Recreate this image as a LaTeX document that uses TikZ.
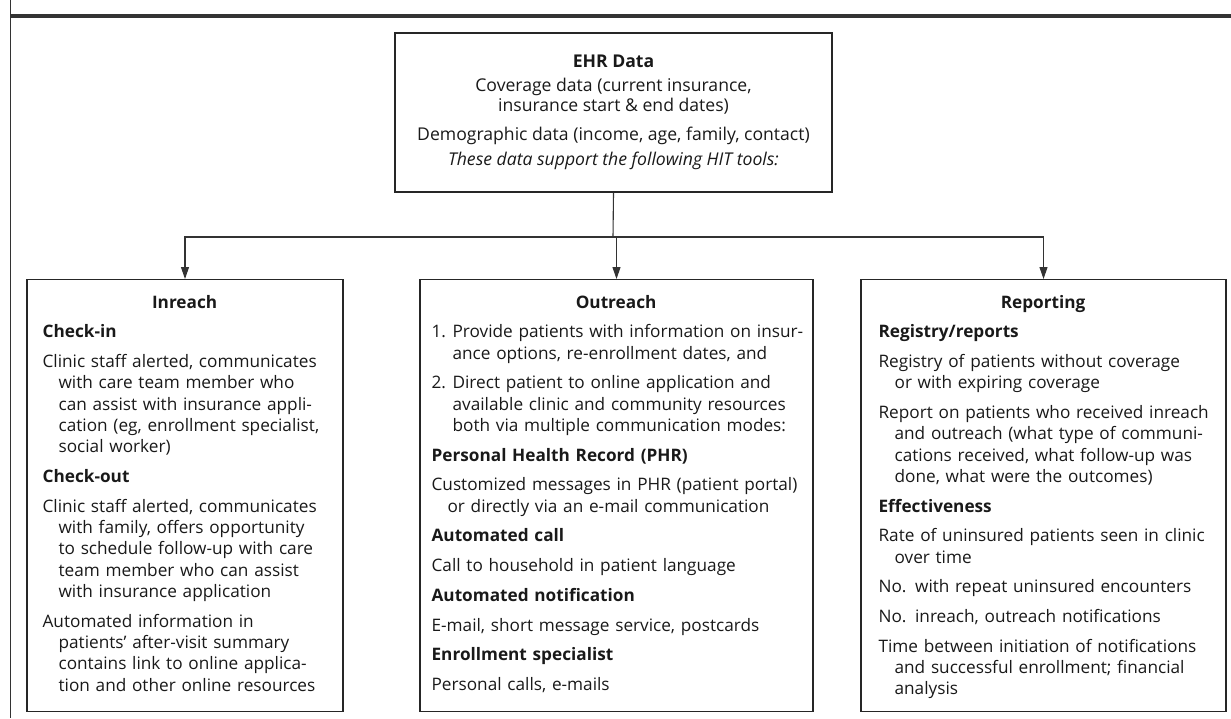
\documentclass[tikz,border=0pt]{standalone}
\usepackage{fontspec}
\setmainfont{Open Sans}
\usetikzlibrary{arrows.meta,positioning}
\newcommand{\hang}[1][16pt]{\hangindent=#1\hangafter=1\relax}
\newcommand{\num}[1]{\hang[21pt]\makebox[21pt][l]{#1}}
\newcommand{\head}[1]{\makebox[\dimexpr\linewidth-40pt]{\textbf{#1}}}
\tikzset{
  panel/.style={draw=black!85, line width=1.2pt, minimum width=#1,
    minimum height=432pt, inner sep=0pt, anchor=north},
  body/.style={anchor=north west, inner sep=0pt, text width=#1+40pt,
    font=\fontsize{17.2}{21.3}\selectfont, text=black!90,
    execute at begin node={\setlength{\parindent}{0pt}\setlength{\parskip}{8.4pt}}},
  link/.style={draw=black!80, line width=1.1pt},
  tip/.style={link, -{Triangle[length=12pt,width=8pt]}}
}
\begin{document}
\begin{tikzpicture}[x=1pt,y=-1pt]
 \useasboundingbox (0,0) rectangle (1231,718);
 % frame of the figure
 \draw[black!80, line width=0.8pt] (10.5,0) -- (10.5,718);
 \draw[black!80, line width=4pt] (11,15.5) -- (1231,15.5);
 % source box
 \node[draw=black!85, line width=1.2pt, minimum width=437pt, minimum height=159pt,
   align=center, font=\fontsize{17.6}{20.5}\selectfont, text=black!90] (ehr) at (613.5,112.5)
   {\textbf{EHR Data}\\[3pt]
    Coverage data (current insurance,\\ insurance start \& end dates)\\[8pt]
    Demographic data (income, age, family, contact)\\[5pt]
    \textit{These data support the following HIT tools:}};
 % the three tool boxes
 \node[panel=316pt] (inreach) at (185,279) {};
 \node[panel=393pt] (outreach) at (616.5,279) {};
 \node[panel=365pt] (reporting) at (1043.5,279) {};
 \coordinate (split) at (613,237);
 \draw[link] (ehr.south) -- (split);
 \draw[tip] (split) -| (inreach.north);
 \draw[tip] (split) -| (reporting.north);
 \draw[tip] (split) -| (outreach.north);
 % texts of the boxes
 \node[body=284pt] (inreachtext) at ([shift={(16pt,-16pt)}]inreach.north west) {%
  \head{Inreach}\par
  \textbf{Check-in}\par
  \hang Clinic staff alerted, communicates\newline with care team member who\newline
   can assist with insurance appli-\newline cation (eg, enrollment specialist,\newline social worker)\par
  \textbf{Check-out}\par
  \hang Clinic staff alerted, communicates\newline with family, offers opportunity\newline
   to schedule follow-up with care\newline team member who can assist\newline with insurance application\par
  \hang Automated information in\newline patients’ after-visit summary\newline
   contains link to online applica-\newline tion and other online resources\par};
 \node[body=369pt] (outreachtext) at ([shift={(12pt,-16pt)}]outreach.north west) {%
  \head{Outreach}\par
  \num{1.}Provide patients with information on insur-\newline ance options, re-enrollment dates, and\par
  \num{2.}Direct patient to online application and\newline available clinic and community resources\newline
   both via multiple communication modes:\par
  \textbf{Personal Health Record (PHR)}\par
  \hang Customized messages in PHR (patient portal)\newline or directly via an e-mail communication\par
  \textbf{Automated call}\par
  Call to household in patient language\par
  \textbf{Automated notification}\par
  E-mail, short message service, postcards\par
  \textbf{Enrollment specialist}\par
  Personal calls, e-mails\par};
 \node[body=329pt] (reportingtext) at ([shift={(18pt,-16pt)}]reporting.north west) {%
  \head{Reporting}\par
  \textbf{Registry/reports}\par
  \hang Registry of patients without coverage\newline or with expiring coverage\par
  \hang Report on patients who received inreach\newline and outreach (what type of communi-\newline
   cations received, what follow-up was\newline done, what were the outcomes)\par
  \textbf{Effectiveness}\par
  \hang Rate of uninsured patients seen in clinic\newline over time\par
  No. with repeat uninsured encounters\par
  No. inreach, outreach notifications\par
  \hang Time between initiation of notifications\newline and successful enrollment; financial\newline analysis\par};
\end{tikzpicture}
\end{document}
